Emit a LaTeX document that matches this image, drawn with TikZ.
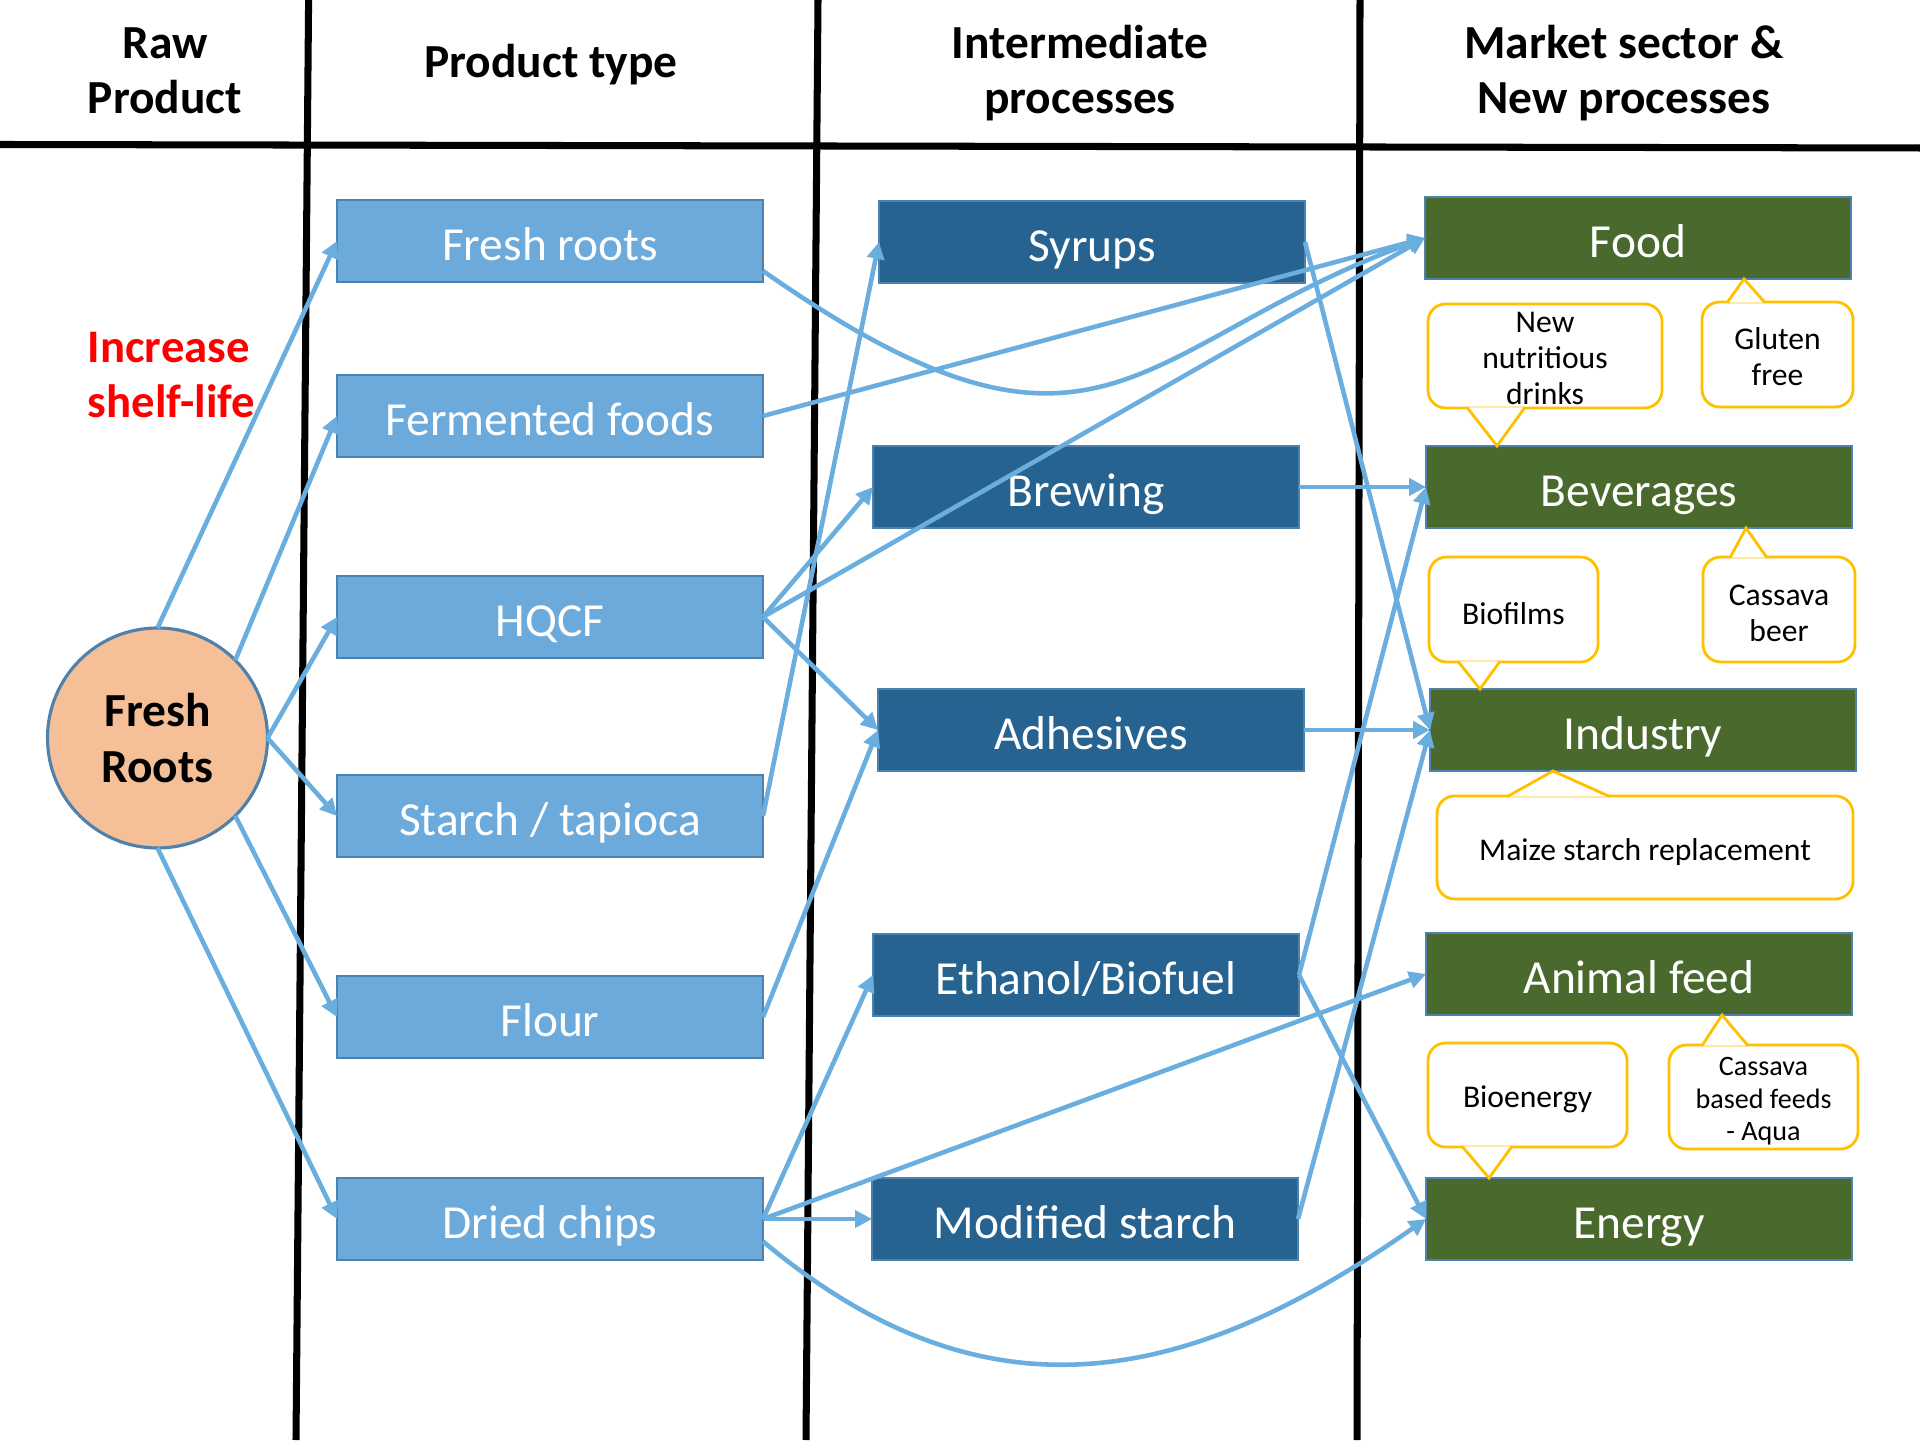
\documentclass[tikz,border=0pt]{standalone}
\usepackage{fontspec}
\setmainfont{Carlito}
\usetikzlibrary{arrows.meta}

\definecolor{rootblue}{HTML}{6BAADB}
\definecolor{procblue}{HTML}{266390}
\definecolor{sectgreen}{HTML}{49692D}
\definecolor{edgeblue}{HTML}{4F81AD}
\definecolor{flowblue}{HTML}{6AADDF}
\definecolor{peach}{HTML}{F5C097}
\definecolor{notegold}{HTML}{FFC000}

% invisible strut to push callout text down a little
\newcommand{\notestrut}[1]{\rule{0pt}{#1}}

\tikzset{
	>={Triangle[length=4.8pt,width=4.8pt]},
	rule/.style={line width=2pt},
	header/.style={font=\fontsize{13.5}{15.6}\selectfont\bfseries, align=center},
	box/.style={draw=edgeblue, line width=0.8pt, minimum width=4.26cm, minimum height=0.82cm,
		outer sep=0pt, text=white, text height=11.3pt, text depth=0.3pt,
		font=\fontsize{13.5}{16}\selectfont},
	product/.style={box, fill=rootblue},
	process/.style={box, fill=procblue},
	sector/.style={box, fill=sectgreen},
	flow/.style={->, draw=flowblue, line width=1.3pt},
	note/.style={draw=notegold, line width=0.8pt, fill=white, rounded corners=5pt,
		align=center, inner sep=0pt, font=\fontsize{9}{10.3}\selectfont},
	pointer/.style={draw=notegold, line width=0.8pt, fill=white}
}

\begin{document}
\begin{tikzpicture}
\useasboundingbox (0,0) rectangle (19.2,14.4);

% column rules
\draw[rule] (0,12.955) -- (19.2,12.92);
\draw[rule] (3.086,14.4) -- (2.96,0);
\draw[rule] (8.18,14.4) -- (8.06,0);
\draw[rule] (13.60,14.4) -- (13.57,0);

% headers
\node[header] (hraw) at (1.65,13.69) {Raw\\Product};
\node[header] (hprod) at (5.51,13.755) {Product type};
\node[header] (hinter) at (10.80,13.67) {Intermediate\\processes};
\node[header] (hmarket) at (16.24,13.67) {Market sector \&\\New processes};

% raw product
\node[circle, minimum size=2.2cm, outer sep=0pt, fill=peach, draw=edgeblue, line width=0.9pt,
	align=center, font=\fontsize{13.5}{15.9}\selectfont\bfseries] (roots) at (1.575,7.02) {Fresh\\Roots};
\node[align=left, text=red, font=\fontsize{13.3}{15.6}\selectfont\bfseries] (shelf) at (1.715,10.65) {Increase\\shelf-life};

% product types
\node[product] (fr) at (5.50,11.99) {Fresh roots};
\node[product] (ff) at (5.50,10.24) {Fermented foods};
\node[product] (hqcf) at (5.50,8.23) {HQCF};
\node[product] (starch) at (5.50,6.24) {Starch / tapioca};
\node[product] (flour) at (5.50,4.23) {Flour};
\node[product] (chips) at (5.50,2.21) {Dried chips};

% intermediate processes
\node[process] (syr) at (10.92,11.98) {Syrups};
\node[process] (brew) at (10.86,9.53) {Brewing};
\node[process] (adh) at (10.91,7.10) {Adhesives};
\node[process] (eth) at (10.86,4.65) {Ethanol/Biofuel};
\node[process] (mod) at (10.85,2.21) {Modified starch};

% market sectors
\node[sector] (food) at (16.38,12.02) {Food};
\node[sector] (bev) at (16.39,9.53) {Beverages};
\node[sector] (ind) at (16.43,7.10) {Industry};
\node[sector] (feed) at (16.39,4.66) {Animal feed};
\node[sector] (energy) at (16.39,2.21) {Energy};

% new processes (callouts)
\node[note, minimum width=2.34cm, minimum height=1.04cm] (drinks) at (15.45,10.84) {\notestrut{7.2pt}New\\nutritious\\drinks};
\filldraw[pointer] ([xshift=-0.78cm,yshift=0.6pt]drinks.south) -- ([xshift=0.71cm]bev.north west) -- ([xshift=-0.20cm,yshift=0.6pt]drinks.south);

\node[note, minimum width=1.51cm, minimum height=1.05cm] (gluten) at (17.775,10.855) {\notestrut{7.4pt}Gluten\\free};
\filldraw[pointer] ([xshift=-0.505cm,yshift=-0.6pt]gluten.north) -- ([xshift=3.19cm]food.south west) -- ([xshift=-0.125cm,yshift=-0.6pt]gluten.north);

\node[note, minimum width=1.69cm, minimum height=1.05cm] (biofilm) at (15.135,8.305) {\notestrut{8.8pt}Biofilms};
\filldraw[pointer] ([xshift=-0.555cm,yshift=0.6pt]biofilm.south) -- ([xshift=0.50cm]ind.north west) -- ([xshift=-0.135cm,yshift=0.6pt]biofilm.south);

\node[note, minimum width=1.52cm, minimum height=1.05cm] (beer) at (17.79,8.305) {\notestrut{7.9pt}Cassava\\beer};
\filldraw[pointer] ([xshift=-0.49cm,yshift=-0.6pt]beer.north) -- ([xshift=3.20cm]bev.south west) -- ([xshift=-0.12cm,yshift=-0.6pt]beer.north);

\node[note, minimum width=4.16cm, minimum height=1.03cm] (maize) at (16.45,5.925) {\notestrut{8.8pt}Maize starch replacement};
\filldraw[pointer] ([xshift=-1.38cm,yshift=-0.6pt]maize.north) -- ([xshift=1.23cm]ind.south west) -- ([xshift=-0.35cm,yshift=-0.6pt]maize.north);

\node[note, minimum width=1.99cm, minimum height=1.04cm] (bioen) at (15.275,3.45) {\notestrut{8.8pt}Bioenergy};
\filldraw[pointer] ([xshift=-0.655cm,yshift=0.6pt]bioen.south) -- ([xshift=0.63cm]energy.north west) -- ([xshift=-0.155cm,yshift=0.6pt]bioen.south);

\node[note, minimum width=1.89cm, minimum height=1.04cm, font=\fontsize{8}{9.2}\selectfont] (feeds) at (17.635,3.43) {\notestrut{7.7pt}Cassava\\based feeds\\- Aqua};
\filldraw[pointer] ([xshift=-0.615cm,yshift=-0.6pt]feeds.north) -- ([xshift=2.96cm]feed.south west) -- ([xshift=-0.155cm,yshift=-0.6pt]feeds.north);

% roots to product types
\draw[flow] (roots.north) -- (fr.west);
\draw[flow] (roots.north east) -- (ff.west);
\draw[flow] (roots.east) -- (hqcf.west);
\draw[flow] (roots.east) -- (starch.west);
\draw[flow] (roots.south east) -- (flour.west);
\draw[flow] (roots.south) -- (chips.west);

% product types onwards
\draw[flow] (fr.-8) to[out=-35, in=200, out looseness=1.6, in looseness=1.2] (food.west);
\draw[flow] (ff.east) -- (food.west);
\draw[flow] (hqcf.east) -- (food.west);
\draw[flow] (hqcf.east) -- (brew.west);
\draw[flow] (hqcf.east) -- (adh.west);
\draw[flow] (starch.east) -- (syr.west);
\draw[flow] (flour.east) -- (adh.west);
\draw[flow] (chips.east) -- (eth.west);
\draw[flow] (chips.east) -- (mod.west);
\draw[flow] (chips.east) -- (feed.west);
\draw[flow] (chips.-6) to[out=-40, in=215, looseness=1.12] (energy.west);

% processes to market sectors
\draw[flow] (syr.east) -- (ind.west);
\draw[flow] (brew.east) -- (bev.west);
\draw[flow] (adh.east) -- (ind.west);
\draw[flow] (eth.east) -- (bev.west);
\draw[flow] (eth.east) -- (energy.west);
\draw[flow] (mod.east) -- (ind.west);

\end{tikzpicture}
\end{document}
